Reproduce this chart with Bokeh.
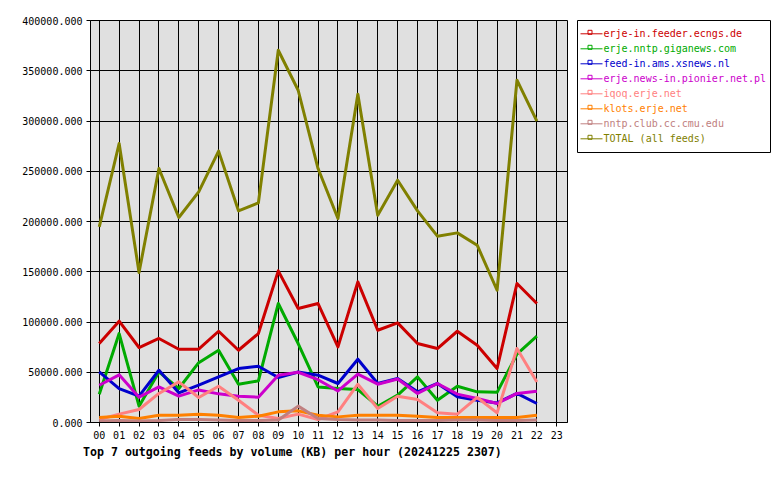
from bokeh.plotting import figure
from bokeh.layouts import row
from bokeh.models import FixedTicker, PrintfTickFormatter, Range1d
from bokeh.embed import file_html
from bokeh.resources import INLINE
from bokeh.core.properties import value

# ---------------- data ----------------
hours = list(range(23))
hour_ticks = list(range(24))
hour_labels = [f"{h:02d}" for h in hour_ticks]
y_ticks = [0, 50000, 100000, 150000, 200000, 250000, 300000, 350000, 400000]

names = [
    "erje-in.feeder.ecngs.de",
    "erje.nntp.giganews.com",
    "feed-in.ams.xsnews.nl",
    "erje.news-in.pionier.net.pl",
    "iqoq.erje.net",
    "klots.erje.net",
    "nntp.club.cc.cmu.edu",
    "TOTAL (all feeds)",
]
colors = ["#cc0000", "#00aa00", "#0000cc", "#cc00cc", "#ff8080", "#ff8000", "#c08080", "#808000"]

ecngs = [78600, 100800, 74600, 83600, 72900, 72900, 90800, 71900, 88500, 150900, 113400, 118400,
         75200, 139900, 91800, 99100, 78600, 73600, 90800, 76900, 53700, 138300, 118400]
giganews = [28200, 88500, 16200, 50300, 33800, 59500, 71900, 38000, 41400, 118400, 78600, 35400,
            33800, 32800, 16200, 27200, 45400, 22200, 36100, 30500, 30000, 68000, 85900]
xsnews = [50300, 33800, 26200, 52000, 29500, 37100, 45400, 53700, 56000, 44800, 50300, 47100,
          38800, 63000, 38800, 43800, 30500, 38800, 25500, 22200, 19500, 28900, 18900]
pionier = [37100, 47400, 25200, 35400, 26200, 32400, 28500, 26200, 25200, 47100, 50000, 42600,
           31400, 48100, 38100, 43300, 28900, 38800, 28200, 23900, 18900, 28900, 31100]
iqoq = [3000, 8300, 12900, 28900, 40400, 24900, 36100, 22200, 7300, 4000, 8300, 3000,
        10600, 38100, 13900, 26200, 22900, 9600, 8300, 24900, 9600, 73600, 40400]
klots = [5000, 6300, 4000, 7300, 7300, 8300, 7300, 5000, 6300, 10600, 11600, 7300,
         5600, 7300, 7300, 7300, 6300, 5000, 5000, 5000, 5000, 5000, 7300]
cmu = [1500, 2000, 1500, 2000, 3000, 3000, 2500, 2000, 2000, 2500, 16300, 4000,
       3000, 2500, 2500, 2000, 2000, 2000, 2500, 2500, 2000, 2000, 2500]
total = [194600, 277600, 149300, 252700, 204000, 229500, 270000, 210600, 218500, 370400, 330600, 252700,
         203000, 326700, 206300, 241100, 210600, 185400, 188700, 176400, 131600, 340600, 299800]

series = [ecngs, giganews, xsnews, pionier, iqoq, klots, cmu, total]
title_text = "Top 7 outgoing feeds by volume (KB) per hour (20241225 2307)"

MONO = "DejaVu Sans Mono"

# ---------------- main plot ----------------
p = figure(width=577, height=473, frame_width=477, frame_height=402,
           x_range=Range1d(-0.44, 23.54), y_range=Range1d(0, 400000),
           output_backend="svg", toolbar_location=None,
           min_border_left=90, min_border_top=20, min_border_right=10, min_border_bottom=51,
           background_fill_color="#e0e0e0", border_fill_color="white",
           outline_line_color="black", outline_line_width=1,
           title=title_text, title_location="below")

p.title.align = "left"
p.title.offset = -7.5
p.title.text_font = MONO
p.title.text_font_size = "11.6px"
p.title.text_font_style = "bold"
p.title.text_color = "black"
p.title.standoff = 2

p.xaxis.ticker = FixedTicker(ticks=hour_ticks)
p.xaxis.major_label_overrides = {h: lab for h, lab in zip(hour_ticks, hour_labels)}
p.yaxis.ticker = FixedTicker(ticks=y_ticks)
p.yaxis.formatter = PrintfTickFormatter(format="%.3f")

for ax in (p.xaxis, p.yaxis):
    ax.axis_line_color = "black"
    ax.major_tick_line_color = "black"
    ax.major_tick_in = 0
    ax.major_tick_out = 4
    ax.minor_tick_line_color = None
    ax.major_label_text_font = MONO
    ax.major_label_text_font_size = "10px"
    ax.major_label_text_color = "black"
    ax.major_label_standoff = 4

p.xgrid.ticker = FixedTicker(ticks=hour_ticks)
p.ygrid.ticker = FixedTicker(ticks=y_ticks)
for g in (p.xgrid, p.ygrid):
    g.grid_line_color = "black"
    g.grid_line_width = 1
    g.grid_line_alpha = 1.0

for vals, col in zip(series, colors):
    p.line(hours, vals, line_color=col, line_width=3, line_join="round")

# ---------------- legend panel ----------------
leg = figure(width=195, height=153, frame_width=193, frame_height=132,
             x_range=Range1d(0, 193), y_range=Range1d(-132, 0),
             x_axis_type=None, y_axis_type=None,
             output_backend="svg", toolbar_location=None,
             min_border_left=0, min_border_right=2, min_border_top=20, min_border_bottom=1,
             background_fill_color="white", border_fill_color="white",
             outline_line_color="black", outline_line_width=1)

row_y = [-(13.3 + 15 * i) for i in range(len(names))]
leg.segment(x0=[3] * len(names), x1=[25] * len(names), y0=row_y, y1=row_y,
            line_color=colors, line_width=1)
leg.scatter(x=[12.5] * len(names), y=[v + 1.5 for v in row_y], marker="square", size=4,
            line_color=colors, fill_alpha=0, line_width=1)
leg.text(x=[26.0] * len(names), y=row_y, text=names, text_color=colors,
         text_baseline="middle", text_align="left",
         text_font=value(MONO), text_font_size="10px")

layout = row(p, leg)
open("out.html", "w").write(file_html(layout, INLINE))
